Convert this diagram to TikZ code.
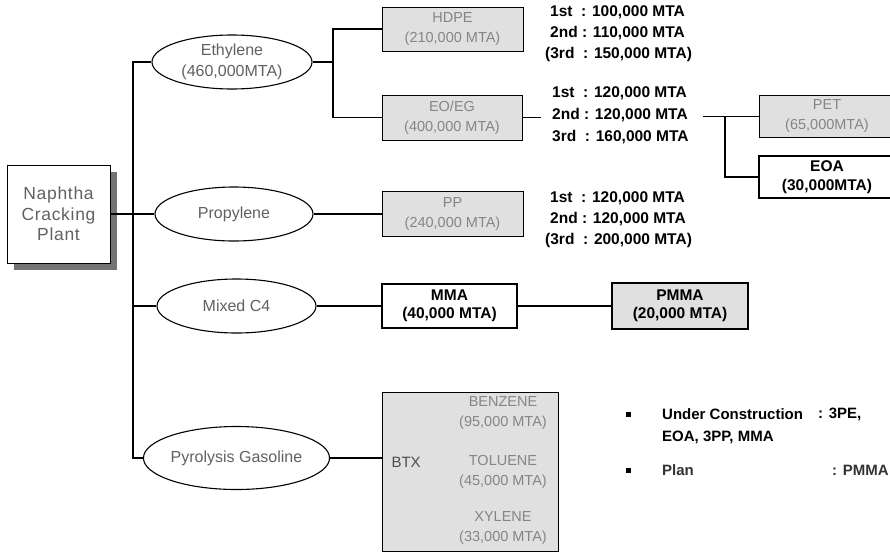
\documentclass[tikz,border=0pt]{standalone}
\usepackage{fontspec}
\setmainfont{Liberation Sans}
\usetikzlibrary{shapes.geometric,shadows}

\definecolor{boxgray}{gray}{0.88}
\definecolor{txtgray}{gray}{0.52}
\definecolor{feedtxt}{gray}{0.38}
\definecolor{shadowgray}{gray}{0.45}

\tikzset{
  wire/.style={line width=1.1pt},
  plantbox/.style={draw, line width=0.9pt, fill=white, minimum width=103pt,
    minimum height=98pt, align=center, text=feedtxt,
    font=\fontsize{17.5}{20.5}\selectfont\addfontfeature{LetterSpace=4},
    drop shadow={shadow xshift=7pt, shadow yshift=-7pt, opacity=1, fill=shadowgray}},
  feed/.style={ellipse, draw, line width=1.1pt, fill=white, inner sep=0pt,
    minimum height=54pt, align=center, text=feedtxt,
    font=\fontsize{16}{20.5}\selectfont},
  oldprod/.style={draw, line width=0.9pt, fill=boxgray, align=center,
    text=txtgray, inner sep=0pt, font=\fontsize{14.5}{20}\selectfont},
  newprod/.style={draw, line width=2pt, fill=white, align=center,
    inner sep=0pt, font=\bfseries\fontsize{15.5}{18.5}\selectfont},
  planprod/.style={newprod, fill=boxgray},
  capline/.style={anchor=west, inner sep=0pt, font=\bfseries\fontsize{15.5}{18}\selectfont},
  legend/.style={anchor=west, inner sep=0pt, font=\bfseries\fontsize{15}{18}\selectfont},
  bullet/.style={fill=black, inner sep=0pt, minimum size=5pt},
}

\begin{document}
\begin{tikzpicture}[x=1pt, y=-1pt]
\clip (0,0) rectangle (890,552);
\fill[white] (0,0) rectangle (890,552);

% source plant
\node[plantbox] (plant) at (58.5,214) {Naphtha\\Cracking\\Plant};

% feedstocks
\node[feed, minimum width=160pt] (eth) at (232,62) {Ethylene\\(460,000MTA)};
\node[feed, minimum width=158pt] (pro) at (234,214) {Propylene};
\node[feed, minimum width=159pt] (mix) at (236.5,306) {Mixed C4};
\node[feed, minimum width=159pt, minimum height=63pt] (pyr) at (236.5,458) {Pyrolysis Gasoline};

% products
\node[oldprod, minimum width=141pt, minimum height=44pt] (hdpe) at (452.5,29) {HDPE\\(210,000 MTA)};
\node[oldprod, minimum width=140pt, minimum height=45pt] (eoeg) at (452,117.5) {EO/EG\\(400,000 MTA)};
\node[oldprod, minimum width=141pt, minimum height=45pt] (pp) at (452.5,214) {PP\\(240,000 MTA)};
\node[newprod, minimum width=135pt, minimum height=44pt] (mma) at (449.5,306) {MMA\\(40,000 MTA)};
\node[planprod, minimum width=136pt, minimum height=46pt] (pmma) at (680,306) {PMMA\\(20,000 MTA)};
\node[oldprod, minimum width=136pt, minimum height=42pt] (pet) at (827,116.5) {PET\\(65,000MTA)};
\node[newprod, minimum width=136pt, minimum height=42pt] (eoa) at (827,177) {EOA\\(30,000MTA)};

% aromatics block
\node[oldprod, minimum width=176pt, minimum height=159pt] (btx) at (470,471.5) {};
\node[anchor=west, text=black!70, font=\fontsize{15}{18}\selectfont] (btxl) at (388,462) {BTX};
\node[text=txtgray, align=center, font=\fontsize{14.5}{19.5}\selectfont] (benz) at (503,413) {BENZENE\\(95,000 MTA)};
\node[text=txtgray, align=center, font=\fontsize{14.5}{19.5}\selectfont] (tol) at (503,472) {TOLUENE\\(45,000 MTA)};
\node[text=txtgray, align=center, font=\fontsize{14.5}{19.5}\selectfont] (xyl) at (503,528) {XYLENE\\(33,000 MTA)};

% capacity notes
\node[capline] (h1) at (550,12) {1st\ \ : 100,000 MTA};
\node[capline] (h2) at (550,33) {2nd : 110,000 MTA};
\node[capline] (h3) at (545,54) {(3rd\ \ : 150,000 MTA)};
\node[capline] (e1) at (552,93) {1st\ \ : 120,000 MTA};
\node[capline] (e2) at (552,115.5) {2nd : 120,000 MTA};
\node[capline] (e3) at (552,137) {3rd\ \ : 160,000 MTA};
\node[capline] (p1) at (550,198) {1st\ \ : 120,000 MTA};
\node[capline] (p2) at (550,219) {2nd : 120,000 MTA};
\node[capline] (p3) at (545,240) {(3rd\ \ : 200,000 MTA)};

% legend
\node[bullet] (b1) at (628,414) {};
\node[bullet] (b2) at (628,470) {};
\node[legend] (l1) at (662,414) {Under Construction};
\node[legend] (l1b) at (818,414) {: 3PE,};
\node[legend] (l2) at (662,437) {EOA, 3PP, MMA};
\node[legend, text=black!80] (l3) at (662,470) {Plan};
\node[legend, text=black!80] (l3b) at (832,470) {: PMMA};

% connectors
\coordinate (trunk) at (133,0);
\coordinate (ebr) at (333,0);
\coordinate (eostub) at (541,117.5);
\coordinate (petj) at (703,116.5);
\coordinate (petk) at (725,116.5);

\draw[wire] (eth.west) -| (trunk |- pyr.west) -- (pyr.west);
\draw[wire] (plant.east) -- (pro.west);
\draw[wire] (mix.west) -- (trunk |- mix.west);
\draw[wire] (eth.east) -- (ebr |- eth.east);
\draw[wire] (hdpe.west) -| (ebr |- eoeg.west) -- (eoeg.west);
\draw[wire] (eoeg.east) -- (eostub);
\draw[wire] (petj) -- (pet.west);
\draw[wire] (petk) |- (eoa.west);
\draw[wire] (pro.east) -- (pp.west);
\draw[wire] (mix.east) -- (mma.west);
\draw[wire] (mma.east) -- (pmma.west);
\draw[wire] (pyr.east) -- (pyr.east -| btx.west);
\end{tikzpicture}
\end{document}
